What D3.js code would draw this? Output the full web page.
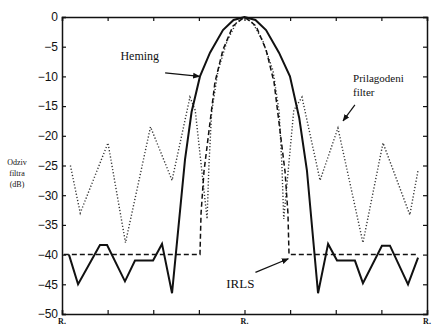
<!DOCTYPE html>
<html>
<head>
<meta charset="utf-8">
<script src="https://cdn.jsdelivr.net/npm/d3@7"></script>
<style>
	body { margin: 0; background: #fff; }
	svg text { fill: #111; }
</style>
</head>
<body>
<svg id="chart" width="432" height="327"></svg>
<script>
// normalized frequency (-1 .. 1) and response in dB
var hemingX = [-0.962, -0.912, -0.792, -0.753, -0.655, -0.6, -0.501, -0.452, -0.397, -0.326, -0.29, -0.244, -0.189, -0.118, -0.06, 0,
	0.06, 0.118, 0.189, 0.249, 0.3, 0.342, 0.403, 0.458, 0.507, 0.605, 0.649, 0.753, 0.797, 0.896, 0.951];
var hemingY = [-40, -45, -38.4, -38.4, -44.5, -41, -41, -38.2, -46.5, -24, -16, -10, -6, -2.2, -0.5, 0,
	-0.5, -2.2, -6, -10, -17, -25.8, -46.5, -38.2, -41, -41, -44.8, -38.5, -38.5, -45, -40.5];

var irlsX = [-0.99, -0.244, -0.238, -0.222, -0.194, -0.162, -0.118, -0.063, 0, 0.063, 0.118, 0.162, 0.194, 0.222, 0.238, 0.244, 0.951];
var irlsY = [-40, -40, -33, -26, -19, -11, -5.5, -1.5, 0, -1.5, -5.5, -11, -19, -26, -33, -40, -40];

var prilX = [-0.954, -0.9, -0.748, -0.652, -0.515, -0.397, -0.299, -0.27, -0.205, -0.195, -0.18, -0.145, -0.095, -0.045, 0,
	0.045, 0.1, 0.156, 0.19, 0.205, 0.215, 0.27, 0.315, 0.414, 0.512, 0.649, 0.759, 0.906, 0.951];
var prilY = [-25, -33, -21.2, -38, -18.5, -27.5, -13.5, -15.7, -34, -25, -16, -9, -4, -1, 0,
	-1, -4, -9, -16, -25, -34, -15.7, -13.5, -27.5, -18.7, -38, -21.2, -33.3, -25.8];

var yTicks = [0, -5, -10, -15, -20, -25, -30, -35, -40, -45, -50];
var xTicks = [-1, -0.75, -0.5, -0.25, 0, 0.25, 0.5, 0.75, 1];
var xLabels = ["R.", "R.", "R."];
var xLabelPos = [-1, 0, 1];
var yLabel = ["Odziv", "filtra", "(dB)"];

var margin = {left: 62, top: 17, right: 5, bottom: 13};
var width = 432 - margin.left - margin.right;
var height = 327 - margin.top - margin.bottom;

var svg = d3.select("#chart");
var g = svg.append("g")
	.attr("transform", "translate(" + margin.left + "," + margin.top + ")");

var xScale = d3.scaleLinear().domain([-1, 1]).range([0, width]);
var yScale = d3.scaleLinear().domain([-50, 0]).range([height, 0]);

// axes, ticks pointing inward like matlab
g.append("g")
	.attr("class", "axis-left")
	.call(d3.axisLeft(yScale).tickValues(yTicks).tickSize(-4).tickPadding(4).tickFormat(d3.format("d")))
	.call(a => a.selectAll("text").style("font-family", "Liberation Sans, Arial, sans-serif").style("font-size", "12px"));
g.append("g")
	.attr("transform", "translate(" + width + ",0)")
	.call(d3.axisRight(yScale).tickValues(yTicks).tickSize(-4).tickFormat(""));
g.append("g")
	.call(d3.axisTop(xScale).tickValues(xTicks).tickSize(-4).tickFormat(""));
g.append("g")
	.attr("transform", "translate(0," + height + ")")
	.call(d3.axisBottom(xScale).tickValues(xTicks).tickSize(-4).tickFormat(""));

g.selectAll(".domain").attr("stroke", "#111").attr("stroke-width", 1.5);
g.selectAll(".tick line").attr("stroke", "#111").attr("stroke-width", 1.2);

// x labels
g.selectAll(".xlab")
	.data(xLabelPos)
	.enter().append("text")
	.attr("class", "xlab")
	.attr("x", d => xScale(d))
	.attr("y", height + 10)
	.attr("text-anchor", "middle")
	.style("font-family", "Liberation Serif, serif")
	.style("font-size", "8px")
	.style("font-weight", "bold")
	.text((d, i) => xLabels[i]);

// y label, three lines
svg.selectAll(".ylab")
	.data(yLabel)
	.enter().append("text")
	.attr("class", "ylab")
	.attr("x", 17)
	.attr("y", (d, i) => 165 + i * 11)
	.attr("text-anchor", "middle")
	.style("font-family", "Liberation Serif, serif")
	.style("font-size", "8px")
	.text(d => d);

var line = d3.line()
	.x(d => xScale(d[0]))
	.y(d => yScale(d[1]));

function pairs(xs, ys) {
	return xs.map((x, i) => [x, ys[i]]);
}

// prilagodeni filter (dotted)
g.append("path")
	.datum(pairs(prilX, prilY))
	.attr("d", line)
	.attr("fill", "none")
	.attr("stroke", "#333")
	.attr("stroke-width", 1.4)
	.attr("stroke-dasharray", "1.2,2");

// IRLS (dashed)
g.append("path")
	.datum(pairs(irlsX, irlsY))
	.attr("d", line)
	.attr("fill", "none")
	.attr("stroke", "#111")
	.attr("stroke-width", 1.5)
	.attr("stroke-dasharray", "5,3");

// heming (solid)
g.append("path")
	.datum(pairs(hemingX, hemingY))
	.attr("d", line)
	.attr("fill", "none")
	.attr("stroke", "#111")
	.attr("stroke-width", 2);

// arrow head marker
svg.append("defs").append("marker")
	.attr("id", "arrow")
	.attr("viewBox", "0 0 10 10")
	.attr("refX", 9)
	.attr("refY", 5)
	.attr("markerWidth", 6)
	.attr("markerHeight", 6)
	.attr("orient", "auto")
	.append("path")
	.attr("d", "M0,1L10,5L0,9z")
	.attr("fill", "#111");

// annotations: [text lines, text x, text y, arrow from, arrow to (data coords)]
var notes = [
	{lines: ["Heming"], size: 12, x: xScale(-0.68), y: yScale(-7.3), from: [-0.435, -9.4], to: [-0.246, -10]},
	{lines: ["Prilagodeni", "filter"], size: 11, x: xScale(0.595), y: yScale(-11), from: [0.605, -14.8], to: [0.54, -17.5]},
	{lines: ["IRLS"], size: 13, x: xScale(-0.1), y: yScale(-45.6), from: [0.06, -43], to: [0.24, -40.7]}
];

notes.forEach(function(n) {
	n.lines.forEach(function(t, i) {
		g.append("text")
			.attr("x", n.x)
			.attr("y", n.y + i * 14)
			.style("font-family", "Liberation Serif, 'Times New Roman', serif")
			.style("font-size", n.size + "px")
			.text(t);
	});
	g.append("line")
		.attr("x1", xScale(n.from[0]))
		.attr("y1", yScale(n.from[1]))
		.attr("x2", xScale(n.to[0]))
		.attr("y2", yScale(n.to[1]))
		.attr("stroke", "#111")
		.attr("stroke-width", 1.2)
		.attr("marker-end", "url(#arrow)");
});
</script>
</body>
</html>
